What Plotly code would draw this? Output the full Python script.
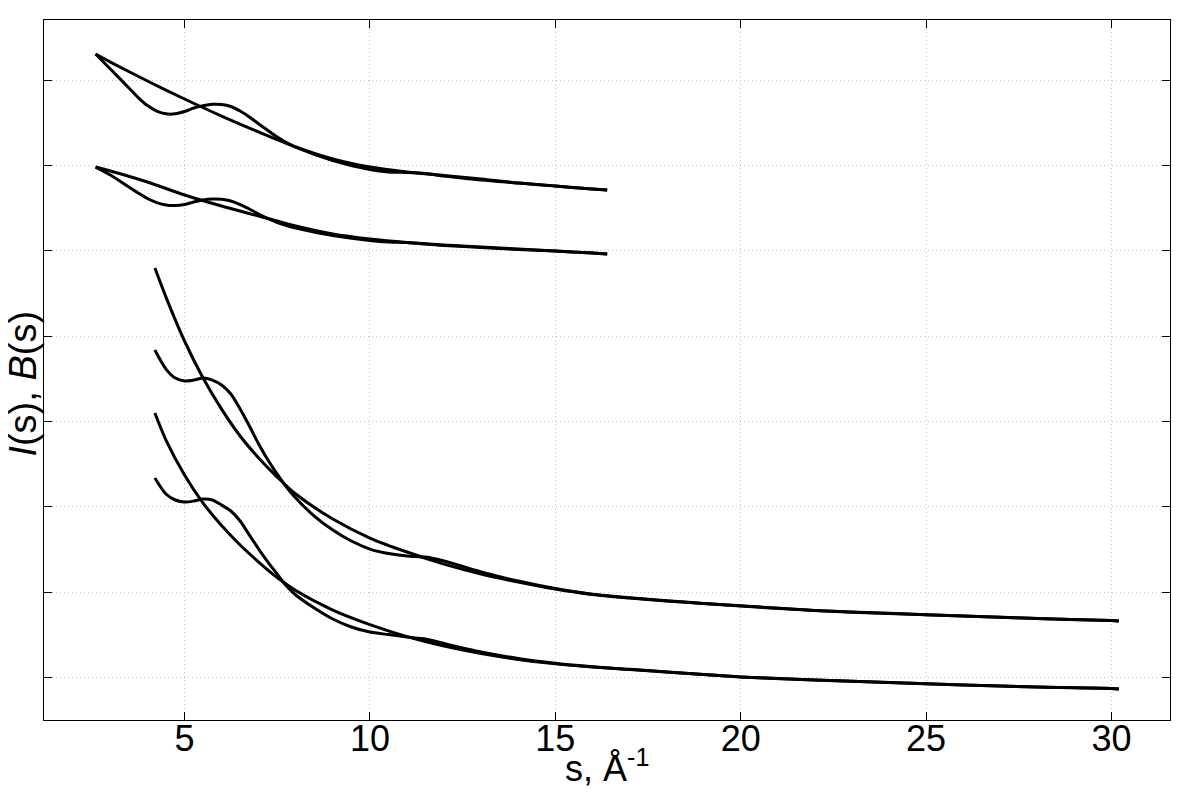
import plotly.graph_objects as go

# ---- data (s in 1/Angstrom, intensity in arbitrary offset units) ----
s_top_B = [2.6, 3, 4, 5, 6, 7, 8, 9, 10, 11, 12, 13, 14, 15, 16, 16.4]
s_top_I = [2.6, 3, 3.5, 3.75, 4, 4.25, 4.5, 4.75, 5, 5.25, 5.5, 5.75, 6, 6.25,
           6.5, 6.75, 7, 7.25, 7.5, 7.75, 8, 9, 10, 10.5, 11, 11.5, 12, 13, 14,
           15, 16, 16.4]

B1 = [7.308, 7.214, 6.992, 6.781, 6.581, 6.394, 6.218, 6.077, 5.983, 5.925,
      5.884, 5.843, 5.796, 5.761, 5.726, 5.714]
I1 = [7.308, 7.132, 6.910, 6.798, 6.704, 6.640, 6.607, 6.607, 6.634, 6.675,
      6.701, 6.718, 6.716, 6.693, 6.640, 6.570, 6.488, 6.411, 6.335, 6.271,
      6.218, 6.060, 5.954, 5.925, 5.919, 5.907, 5.878, 5.831, 5.796, 5.761,
      5.726, 5.714]

B2 = [5.983, 5.937, 5.808, 5.655, 5.526, 5.409, 5.292, 5.198, 5.139, 5.098,
      5.069, 5.046, 5.022, 4.999, 4.975, 4.964]
I2 = [5.983, 5.890, 5.749, 5.679, 5.614, 5.567, 5.538, 5.532, 5.544, 5.573,
      5.597, 5.608, 5.605, 5.585, 5.544, 5.491, 5.432, 5.380, 5.333, 5.298,
      5.268, 5.180, 5.122, 5.104, 5.098, 5.081, 5.063, 5.040, 5.016, 4.999,
      4.975, 4.964]

s_low_B = [4.2, 4.5, 5, 5.5, 6, 6.5, 7, 7.5, 8, 9, 10, 11, 12, 13, 14, 15, 16,
           17, 18, 19, 20, 22, 24, 26, 28, 30, 30.2]
s_low_I = [4.2, 4.5, 4.75, 5, 5.25, 5.5, 5.75, 6, 6.25, 6.5, 6.75, 7, 7.25,
           7.5, 7.75, 8, 8.5, 9, 9.5, 10, 10.5, 11, 11.5, 12, 13, 14, 15, 16,
           17, 18, 19, 20, 22, 24, 26, 28, 30, 30.2]

B3 = [4.799, 4.459, 3.944, 3.510, 3.146, 2.830, 2.572, 2.349, 2.150, 1.857,
      1.634, 1.470, 1.329, 1.212, 1.118, 1.036, 0.972, 0.931, 0.896, 0.866,
      0.837, 0.784, 0.749, 0.720, 0.690, 0.667, 0.661]
I3 = [3.838, 3.615, 3.510, 3.475, 3.486, 3.510, 3.486, 3.428, 3.322, 3.146,
      2.947, 2.736, 2.549, 2.384, 2.232, 2.103, 1.892, 1.728, 1.599, 1.505,
      1.452, 1.423, 1.411, 1.365, 1.236, 1.130, 1.042, 0.975, 0.934, 0.899,
      0.868, 0.839, 0.786, 0.751, 0.721, 0.691, 0.667, 0.661]

B4 = [3.100, 2.783, 2.373, 2.044, 1.781, 1.552, 1.353, 1.171, 1.019, 0.790,
      0.620, 0.479, 0.368, 0.280, 0.211, 0.159, 0.122, 0.093, 0.063, 0.034,
      0.005, -0.030, -0.060, -0.089, -0.113, -0.130, -0.136]
I4 = [2.338, 2.150, 2.080, 2.056, 2.068, 2.091, 2.080, 2.021, 1.951, 1.834,
      1.669, 1.505, 1.353, 1.212, 1.071, 0.966, 0.814, 0.685, 0.591, 0.532,
      0.503, 0.474, 0.450, 0.397, 0.298, 0.222, 0.166, 0.125, 0.095, 0.065,
      0.035, 0.006, -0.029, -0.059, -0.088, -0.112, -0.129, -0.136]

x_ticks = [5, 10, 15, 20, 25, 30]
y_ticks = [0, 1, 2, 3, 4, 5, 6, 7]

series = [
    (s_top_B, B1), (s_top_I, I1),
    (s_top_B, B2), (s_top_I, I2),
    (s_low_B, B3), (s_low_I, I3),
    (s_low_B, B4), (s_low_I, I4),
]

fig = go.Figure()
for xs, ys in series:
    fig.add_trace(go.Scatter(
        x=xs, y=ys, mode="lines",
        line=dict(color="black", width=3, shape="spline", smoothing=0.8),
        showlegend=False, hoverinfo="skip",
    ))

axis_common = dict(
    showline=True, linecolor="black", linewidth=1.3, mirror="ticks",
    ticks="inside", ticklen=8, tickwidth=1.3, tickcolor="black",
    showgrid=True, gridcolor="#c4c4c4", gridwidth=1, griddash="1px,3px",
    zeroline=False,
)

FONT = "Liberation Sans, Arial, sans-serif"

fig.update_xaxes(
    range=[1.21, 31.58], tickvals=x_ticks, ticktext=[str(v) for v in x_ticks],
    tickfont=dict(family=FONT, size=36, color="black"),
    ticklabelstandoff=-13,
    **axis_common,
)
fig.update_yaxes(
    range=[-0.499, 7.707], tickvals=y_ticks, showticklabels=False,
    **axis_common,
)

fig.add_annotation(
    text="s, Å<sup>-1</sup>", xref="paper", yref="paper",
    x=0.5, y=-0.101, xanchor="center", yanchor="bottom", showarrow=False,
    font=dict(family=FONT, size=36, color="black"),
)
fig.add_annotation(
    text="<i>I</i>(s), <i>B</i>(s)", xref="paper", yref="paper",
    x=-0.019, y=0.480, xanchor="center", yanchor="middle", textangle=-90,
    showarrow=False,
    font=dict(family=FONT, size=38, color="black"),
)

# the page body adds an 8px offset, so the margins compensate for it
fig.update_layout(
    width=1200, height=800,
    margin=dict(l=36, r=38, t=12, b=88),
    plot_bgcolor="white", paper_bgcolor="white",
)

fig.write_html("out.html")
